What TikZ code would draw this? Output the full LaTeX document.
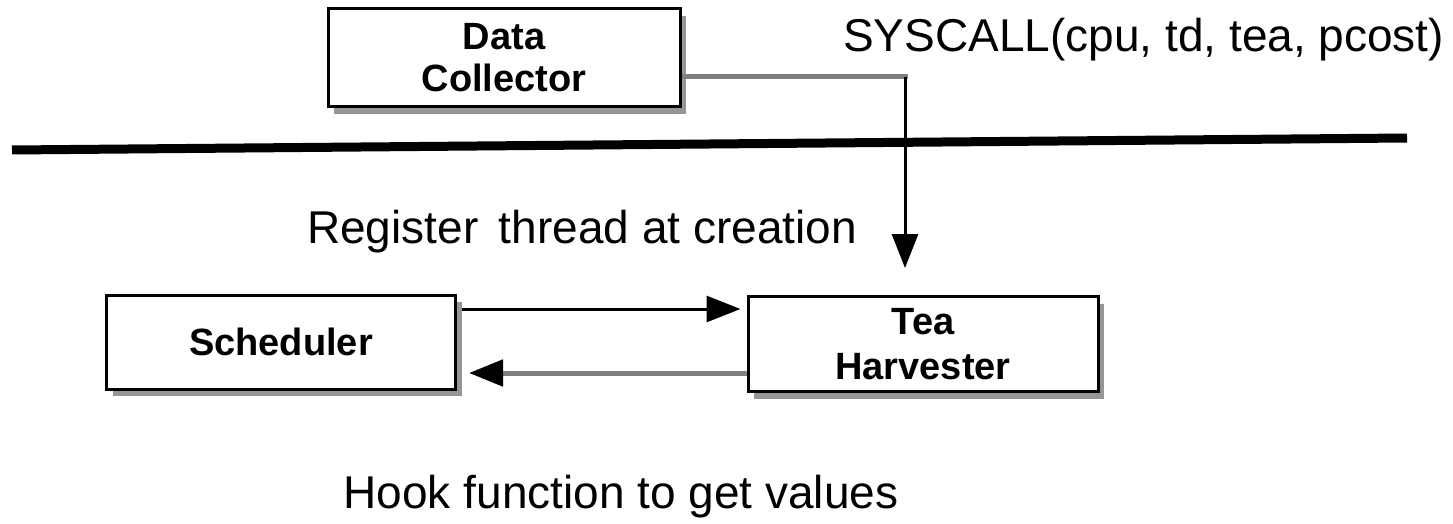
\documentclass[tikz,border=0pt]{standalone}
\usepackage{fontspec}
\setmainfont{Liberation Sans}
\usetikzlibrary{arrows.meta,shadows}
\tikzset{
  box/.style={draw=black, line width=3pt, fill=white, align=center,
    font=\fontsize{38}{45}\selectfont\bfseries,
    drop shadow={shadow xshift=6pt, shadow yshift=-7pt, fill=black!55, opacity=0.75}},
  lbl/.style={font=\fontsize{46}{52}\selectfont, inner sep=0pt},
  blackarrow/.style={draw=black, line width=3pt, -{Triangle[length=34pt,width=26pt]}},
  grayarrow/.style={draw=black!50, line width=5pt, -{Triangle[length=34pt,width=26pt,fill=black,color=black]}},
  grayline/.style={draw=black!50, line width=5pt},
}
\begin{document}
\begin{tikzpicture}[x=1pt,y=-1pt]
\useasboundingbox (0,0) rectangle (1453,524);
\node[box, minimum width=352pt, minimum height=98pt] (dc) at (504,58) {\raisebox{-3pt}{Data}\\Collector};
\node[box, minimum width=349pt, minimum height=94pt] (sch) at (281,342) {Scheduler};
\node[box, minimum width=350pt, minimum height=95pt] (th) at (923,344) {Tea\\Harvester};
\node[lbl, anchor=west] (sys) at (843,40) {SYSCALL(cpu, td, tea, pcost)};
\node[lbl] (reg) at (582,232) {Register\, thread at creation};
\node[lbl] (hook) at (621,497) {Hook function to get values};
\draw[line width=9pt] (12,150) -- (1407,138);
\coordinate (corner) at (905,77);
\coordinate (tip) at (905,268);
\draw[grayline] ([yshift=-19pt]dc.east) -- ([xshift=2.5pt]corner);
\draw[blackarrow] (corner) -- (tip);
\draw[blackarrow, shorten >=6pt] ([xshift=5pt,yshift=33pt]sch.east) -- ([yshift=35pt]th.west);
\draw[grayarrow, shorten >=12pt] ([yshift=-29pt]th.west) -- ([yshift=-31pt]sch.east);
\end{tikzpicture}
\end{document}
